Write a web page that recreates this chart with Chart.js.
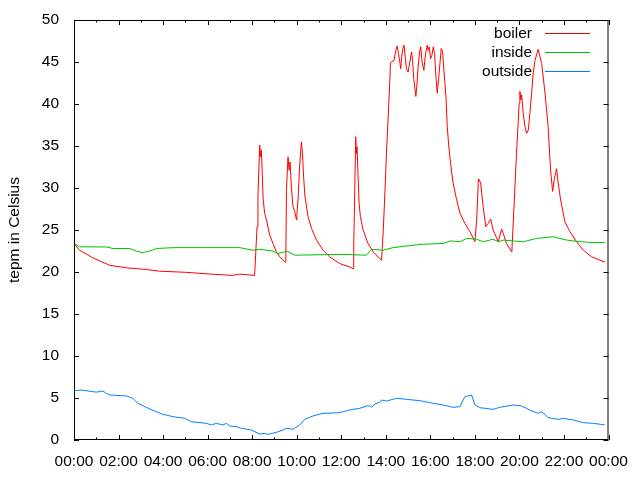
<!DOCTYPE html>
<html>
<head>
<meta charset="utf-8">
<script src="https://cdn.jsdelivr.net/npm/chart.js@4/dist/chart.umd.min.js"></script>
<style>
  html, body { margin: 0; padding: 0; background: #fff; }
  #wrap { width: 640px; height: 480px; }
</style>
</head>
<body>
<div id="wrap"><canvas id="tempChart" width="640" height="480"></canvas></div>
<script>
// hours since midnight
const boilerHours = [0.0, 0.25, 0.84, 1.6, 2.35, 3.24, 3.84, 5.04, 6.09, 7.12, 7.44, 8.11,
  8.22, 8.26, 8.34, 8.38, 8.41, 8.46, 8.49, 8.56, 8.64, 8.79, 8.93, 9.09, 9.24, 9.46, 9.51,
  9.54, 9.61, 9.66, 9.70, 9.76, 9.83, 9.91, 9.99, 10.01, 10.06, 10.13, 10.21, 10.26, 10.31,
  10.37, 10.51, 10.66, 10.89, 11.18, 11.48, 11.93, 12.38, 12.53,
  12.56, 12.61, 12.65, 12.68, 12.71, 12.76, 12.80, 12.86, 12.98, 13.20, 13.43, 13.81,
  13.88, 13.96, 14.03, 14.10, 14.18, 14.21, 14.37, 14.45, 14.51, 14.57, 14.63, 14.67,
  14.73, 14.78, 14.82, 14.87, 14.93, 15.00, 15.08, 15.16, 15.20, 15.26, 15.35, 15.41,
  15.45, 15.53, 15.57, 15.63, 15.71, 15.75, 15.80, 15.86, 15.90, 15.95, 16.01, 16.07,
  16.13, 16.19, 16.25, 16.31, 16.37, 16.43, 16.49, 16.55, 16.61, 16.70, 16.76, 16.83,
  16.91, 17.02, 17.18, 17.33, 17.55, 17.78, 18.00,
  18.08, 18.16, 18.26, 18.37, 18.49, 18.60, 18.71, 18.82, 19.05, 19.20, 19.30, 19.42, 19.66,
  19.75, 19.87, 19.99, 20.02, 20.07, 20.10, 20.17, 20.25, 20.32, 20.40, 20.47, 20.55,
  20.62, 20.70, 20.84, 21.00, 21.15, 21.29, 21.40, 21.49, 21.56, 21.67, 21.74, 21.85,
  22.04, 22.27, 22.57, 22.87, 23.24, 23.62, 23.84];
const boilerTemps = [23.4, 22.6, 21.7, 20.8, 20.5, 20.3, 20.1, 19.96, 19.76, 19.6, 19.75, 19.6,
  25.4, 29.2, 35.1, 33.7, 34.5, 31.3, 28.8, 27.0, 26.2, 24.4, 23.4, 22.4, 21.8, 21.2, 21.15,
  29.8, 33.7, 32.1, 33.1, 30.2, 27.8, 27.2, 26.2, 27.0, 28.6, 32.5, 35.5, 34.1, 31.3,
  29.0, 26.6, 25.2, 23.8, 22.6, 21.8, 21.0, 20.6, 20.4,
  23.0, 30.2, 36.1, 34.1, 34.9, 31.0, 28.2, 26.6, 25.0, 23.4, 22.4, 21.4,
  24.6, 29.4, 34.1, 38.1, 42.7, 44.9, 45.2, 46.4, 46.9, 46.0, 45.0, 44.2,
  46.0, 46.8, 47.0, 45.6, 44.2, 43.8, 45.0, 46.2, 45.2, 42.9, 40.9, 42.7,
  44.4, 46.4, 46.8, 45.0, 44.0, 45.2, 46.2, 47.0, 46.4, 46.8, 45.4, 45.8,
  46.8, 46.0, 43.3, 41.3, 42.9, 44.8, 46.6, 46.2, 44.0, 40.9, 37.3, 34.9,
  32.9, 30.6, 28.6, 27.0, 25.8, 24.8, 23.6,
  26.2, 31.1, 30.6, 27.8, 25.4, 25.8, 26.3, 25.0, 23.6, 25.1, 24.4, 23.4, 22.4,
  27.4, 34.1, 40.1, 41.5, 40.5, 41.1, 38.9, 37.3, 36.5, 36.9, 38.9, 41.3,
  43.7, 45.2, 46.5, 44.8, 41.3, 37.3, 32.1, 29.6, 31.0, 32.3, 30.6, 28.6,
  26.0, 24.8, 23.6, 22.6, 21.8, 21.4, 21.2];

const insideHours = [0.0, 0.25, 1.45, 1.75, 2.5, 2.79, 3.08, 3.53, 3.7, 4.5, 6.0, 7.44, 8.02,
  8.34, 8.93, 9.15, 9.46, 9.54, 9.91, 12.0, 13.13, 13.36, 13.88, 14.33, 14.93, 15.68, 16.57,
  16.88, 17.33, 17.63, 18.08, 18.37, 18.82, 19.05, 19.27, 19.72, 20.17, 20.77, 21.51, 22.12,
  22.72, 23.33, 23.84];
const insideTemps = [23.4, 23.0, 22.98, 22.8, 22.8, 22.5, 22.3, 22.6, 22.8, 22.9, 22.9, 22.9, 22.6,
  22.7, 22.5, 22.2, 22.4, 22.5, 22.0, 22.1, 22.0, 22.7, 22.6, 22.9, 23.1, 23.3, 23.4,
  23.7, 23.6, 24.0, 23.9, 23.6, 23.9, 23.6, 23.8, 23.7, 23.6, 24.0, 24.2, 23.8,
  23.6, 23.5, 23.5];

const outsideHours = [0.0, 0.33, 0.84, 1.0, 1.3, 1.45, 1.6, 2.35, 2.64, 2.87, 3.24, 3.69, 3.99,
  4.44, 4.97, 5.27, 5.94, 6.17, 6.39, 6.69, 6.84, 6.99, 7.29, 7.51, 7.96, 8.34, 8.56, 8.71,
  9.09, 9.38, 9.54, 9.83, 10.13, 10.36, 10.73, 11.18, 11.9, 12.08, 12.53, 12.83, 13.13,
  13.28, 13.36, 13.51, 13.73, 13.8, 14.03, 14.48, 14.93, 15.53, 16.13, 16.57, 17.02, 17.33,
  17.55, 17.85, 18.0, 18.22, 18.82, 19.12, 19.72, 20.1, 20.47, 20.84, 21.0, 21.29, 21.74,
  21.97, 22.42, 22.87, 23.33, 23.84];
const outsideTemps = [5.87, 5.95, 5.75, 5.7, 5.83, 5.55, 5.36, 5.24, 4.96, 4.37, 3.89, 3.37, 3.06,
  2.78, 2.58, 2.18, 1.98, 1.79, 1.98, 1.79, 1.98, 1.67, 1.59, 1.39, 1.19, 0.71, 0.79, 0.67,
  0.91, 1.19, 1.39, 1.27, 1.79, 2.46, 2.86, 3.17, 3.25, 3.37, 3.65, 3.77, 4.05,
  4.05, 3.89, 4.29, 4.48, 4.76, 4.64, 4.96, 4.84, 4.68, 4.37, 4.17, 3.89, 3.97,
  5.16, 5.36, 4.17, 3.85, 3.65, 3.89, 4.17, 4.05, 3.57, 3.17, 3.37, 2.66, 2.46,
  2.58, 2.38, 2.06, 1.98, 1.79];

const seriesNames = ['boiler', 'inside', 'outside'];
const seriesColors = ['#ff0000', '#00c000', '#0080ff'];

const FONT = "'Liberation Sans', Arial, sans-serif";
const FONT_SIZE = 15.5;

function toPoints(hours, temps) {
  return hours.map((h, i) => ({ x: h, y: temps[i] }));
}

function hourLabel(v) {
  const h = Math.round(v) % 24;
  return (h < 10 ? '0' : '') + h + ':00';
}

// gnuplot-like frame: border box, inward tics on all four sides, key in the top right
const gnuplotFrame = {
  id: 'gnuplotFrame',
  afterDraw(chart) {
    const { ctx, chartArea: a, scales } = chart;
    ctx.save();
    ctx.strokeStyle = '#000';
    ctx.lineWidth = 1;
    ctx.beginPath();
    for (let h = 0; h <= 24; h++) {
      const x = Math.round(scales.x.getPixelForValue(h)) + 0.5;
      const len = h % 2 === 0 ? 5 : 2.5;
      ctx.moveTo(x, a.bottom); ctx.lineTo(x, a.bottom - len);
      ctx.moveTo(x, a.top); ctx.lineTo(x, a.top + len);
    }
    for (let v = 0; v <= 50; v += 5) {
      const y = Math.round(scales.y.getPixelForValue(v)) + 0.5;
      ctx.moveTo(a.left, y); ctx.lineTo(a.left + 5, y);
      ctx.moveTo(a.right, y); ctx.lineTo(a.right - 5, y);
    }
    ctx.stroke();
    ctx.strokeRect(a.left + 0.5, a.top + 0.5, a.right - a.left - 1, a.bottom - a.top - 1);

    // key
    ctx.font = FONT_SIZE + 'px ' + FONT;
    ctx.textAlign = 'right';
    ctx.textBaseline = 'middle';
    chart.data.datasets.forEach((ds, i) => {
      const y = 33.5 + i * 19;
      ctx.fillStyle = '#000';
      ctx.fillText(ds.label, 532, y);
      ctx.strokeStyle = ds.borderColor;
      ctx.beginPath();
      ctx.moveTo(545, y); ctx.lineTo(590, y);
      ctx.stroke();
    });
    ctx.restore();
  }
};

const ctxTemp = document.getElementById('tempChart').getContext('2d');
new Chart(ctxTemp, {
  type: 'line',
  data: {
    datasets: [
      { label: seriesNames[0], data: toPoints(boilerHours, boilerTemps), borderColor: seriesColors[0], order: 3 },
      { label: seriesNames[1], data: toPoints(insideHours, insideTemps), borderColor: seriesColors[1], order: 2 },
      { label: seriesNames[2], data: toPoints(outsideHours, outsideTemps), borderColor: seriesColors[2], order: 1 }
    ].map(d => Object.assign(d, { borderWidth: 1, pointRadius: 0, tension: 0, fill: false }))
  },
  options: {
    responsive: false,
    animation: false,
    layout: { padding: { left: 0, right: 31.5, top: 20, bottom: 0 } },
    plugins: { legend: { display: false }, tooltip: { enabled: false } },
    scales: {
      x: {
        type: 'linear', min: 0, max: 24,
        grid: { display: false, drawTicks: false },
        border: { display: false },
        ticks: { stepSize: 2, callback: v => hourLabel(v), color: '#000', font: { family: FONT, size: FONT_SIZE }, padding: 12, maxRotation: 0, autoSkip: false },
        afterFit: s => { s.height = 40; s.paddingLeft = 0; s.paddingRight = 0; }
      },
      y: {
        min: 0, max: 50,
        grid: { display: false, drawTicks: false },
        border: { display: false },
        ticks: { stepSize: 5, color: '#000', font: { family: FONT, size: FONT_SIZE }, padding: 15 },
        title: { display: true, text: 'tepm in Celsius', color: '#000', font: { family: FONT, size: FONT_SIZE }, padding: { top: 5, bottom: 0 } },
        afterFit: s => { s.width = 74; s.paddingTop = 0; s.paddingBottom = 0; }
      }
    }
  },
  plugins: [gnuplotFrame]
});
</script>
</body>
</html>
